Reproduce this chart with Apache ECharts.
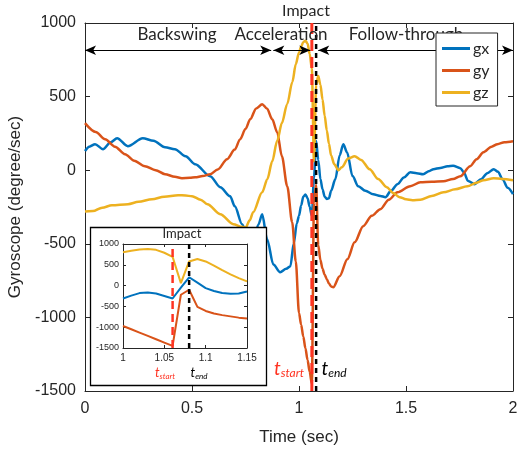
<!DOCTYPE html>
<html><head><meta charset="utf-8">
<script src="https://cdn.jsdelivr.net/npm/echarts@6/dist/echarts.min.js"></script>
<style>html,body{margin:0;padding:0;background:#fff}#c{width:517px;height:450px}</style>
</head><body><div id="c"></div>
<script>
// ---- data ----
const insetT  = [1.00,1.01,1.02,1.03,1.04,1.05,1.06,1.07,1.08,1.09,1.10,1.11,1.12,1.13,1.14,1.15];
const insetGx = [-310,-240,-180,-165,-190,-250,-310,-50,200,70,-60,-130,-180,-195,-190,-140];
const insetGy = [-970,-1050,-1130,-1210,-1290,-1370,-1450,-220,-100,-510,-610,-670,-710,-740,-770,-790];
const insetGz = [800,840,870,880,860,790,690,60,580,640,580,480,370,270,180,100];

const gxEarlyT = [0,0.02,0.047,0.084,0.12,0.15,0.2,0.27,0.32,0.374,0.42,0.47,0.515,0.585,0.632,0.678,0.70,0.734,0.76,0.79,0.81,0.828,0.851,0.88,0.912,0.94,0.96,0.975,0.99];
const gxEarly  = [130,160,177,143,190,217,163,217,200,156,143,95,41,-41,-115,-177,-245,-367,-450,-460,-370,-300,-469,-640,-693,-670,-652,-500,-360];
const gxLateT  = [1.17,1.19,1.207,1.225,1.25,1.277,1.31,1.347,1.38,1.404,1.43,1.46,1.49,1.52,1.55,1.58,1.61,1.628,1.66,1.694,1.72,1.754,1.77,1.79,1.82,1.85,1.88,1.91,1.93,1.951,1.975,2.0];
const gxLate   = [-60,100,177,120,-40,-109,-140,-163,-175,-183,-140,-95,-50,-14,-20,-27,-5,7,15,27,30,14,-14,-73,-95,-61,-20,7,-10,-61,-120,-163];

const gyEarlyT = [0,0.05,0.094,0.14,0.187,0.23,0.28,0.33,0.374,0.42,0.453,0.49,0.515,0.55,0.585,0.62,0.664,0.7,0.725,0.75,0.772,0.8,0.828,0.85,0.875,0.898,0.92,0.945,0.968,0.985];
const gyEarly  = [320,260,211,160,109,65,27,0,-27,-45,-54,-52,-48,-40,-27,5,75,140,211,280,346,420,448,420,346,258,95,-109,-353,-620];
const gyLateT  = [1.16,1.19,1.226,1.26,1.3,1.34,1.38,1.42,1.46,1.52,1.567,1.62,1.675,1.72,1.754,1.8,1.83,1.862,1.9,1.927,1.96,2.0];
const gyLate   = [-795,-720,-605,-490,-380,-310,-265,-200,-150,-109,-82,-78,-75,-60,-41,27,75,122,160,177,190,197];

const gzEarlyT = [0,0.037,0.08,0.126,0.201,0.25,0.313,0.37,0.435,0.47,0.5,0.54,0.572,0.632,0.693,0.734,0.75,0.77,0.786,0.828,0.852,0.875,0.898,0.92,0.945,0.969,0.985];
const gzEarly  = [-280,-278,-255,-238,-231,-215,-197,-180,-170,-172,-177,-200,-231,-299,-367,-385,-390,-340,-285,-150,-61,60,200,320,450,600,720];
const gzLateT  = [1.165,1.184,1.2,1.23,1.26,1.29,1.33,1.37,1.41,1.44,1.47,1.5,1.53,1.567,1.62,1.675,1.73,1.787,1.83,1.862,1.91,1.95,2.0];
const gzLate   = [40,0,20,80,95,70,7,-60,-115,-155,-183,-198,-204,-200,-175,-150,-130,-109,-85,-68,-54,-60,-68];

const impactStart = 1.06, impactEnd = 1.08;
const phaseNames = ['Backswing','Acceleration','Follow-through'];
const phaseArrows = [[0,0.87],[0.88,1.053],[1.09,2]];
const arrowLevel = 815;

// ---- build ----
const pairs = (ts, vs) => ts.map((t,i)=>[t, vs[i]]);
const mainGx = pairs(gxEarlyT.concat(insetT, gxLateT), gxEarly.concat(insetGx, gxLate));
const mainGy = pairs(gyEarlyT.concat(insetT, gyLateT), gyEarly.concat(insetGy, gyLate));
const mainGz = pairs(gzEarlyT.concat(insetT, gzLateT), gzEarly.concat(insetGz, gzLate));

const C = {gx:'#0072BD', gy:'#D95319', gz:'#EDB120', red:'#FF3322', axis:'#262626'};
const TF = 'Liberation Sans';
const AF = 'Lato';
const plain = v => String(Math.round(v*1000)/1000);

const chart = echarts.init(document.getElementById('c'), null, {renderer:'canvas'});

function xAx(grid, min, max, itv, pos, labels, fs, z){
  return {gridIndex:grid, type:'value', min, max, interval:itv, position:pos, z:z||0,
    axisLine:{show:true, onZero:false, lineStyle:{color:C.axis, width:1}},
    axisTick:{show:true, inside:true, length:grid===0?5:3, lineStyle:{color:C.axis}},
    axisLabel:{show:labels, color:C.axis, fontFamily:TF, fontSize:fs, margin:grid===0?10:5, formatter:plain},
    splitLine:{show:false}};
}
function yAx(grid, pos, labels, fs, z){
  return {gridIndex:grid, type:'value', min:-1500, max:1000, interval:500, position:pos, z:z||0,
    axisLine:{show:true, onZero:false, lineStyle:{color:C.axis, width:1}},
    axisTick:{show:true, inside:true, length:grid===0?5:3, lineStyle:{color:C.axis}},
    axisLabel:{show:labels, color:C.axis, fontFamily:TF, fontSize:fs, margin:grid===0?9:4, formatter:plain},
    splitLine:{show:false}};
}

const xAxes = [
  xAx(0,0,2,0.5,'bottom',true,16),
  xAx(0,0,2,0.5,'top',false,16),
  xAx(1,1,1.15,0.05,'bottom',true,10,30),
  xAx(1,1,1.15,0.05,'top',false,10,30)
];
xAxes[0].name = 'Time (sec)'; xAxes[0].nameLocation='middle'; xAxes[0].nameGap=38;
xAxes[0].nameTextStyle = {fontFamily:TF, fontSize:17, color:C.axis};
const yAxes = [
  yAx(0,'left',true,16), yAx(0,'right',false,16),
  yAx(1,'left',true,9,30), yAx(1,'right',false,9,30)
];
yAxes[0].name = 'Gyroscope (degree/sec)'; yAxes[0].nameLocation='middle'; yAxes[0].nameGap=58;
yAxes[0].nameTextStyle = {fontFamily:TF, fontSize:17, color:C.axis};

function mainLine(name, data, color){
  return {name, type:'line', xAxisIndex:0, yAxisIndex:0, data, showSymbol:false, symbol:'none',
    smooth:0.3, smoothMonotone:'x', lineStyle:{color, width:2.5}, itemStyle:{color}, z:2, silent:true};
}
function insetLine(name, data, color){
  return {name:name+'_in', type:'line', xAxisIndex:2, yAxisIndex:2, data, showSymbol:false, symbol:'none',
    smooth:false, lineStyle:{color, width:2}, itemStyle:{color}, z:32, silent:true, clip:true};
}
function vline(x, xi, yi, color, width, dash, z){
  return {type:'line', xAxisIndex:xi, yAxisIndex:yi, data:[[x,-1500],[x,1000]], showSymbol:false, symbol:'none',
    lineStyle:{color, width, type:dash}, z, silent:true};
}

const arrowSeries = vline(impactStart,0,0,C.red,3,[11,6],4);
arrowSeries.markLine = {
  silent:true, symbol:['arrow','arrow'], symbolSize:[7,11],
  lineStyle:{color:'#000', width:1, type:'solid'}, label:{show:false},
  data: phaseArrows.map(a=>[{coord:[a[0],arrowLevel]},{coord:[a[1],arrowLevel]}])
};

const series = [
  mainLine('gx', mainGx, C.gx),
  mainLine('gy', mainGy, C.gy),
  mainLine('gz', mainGz, C.gz),
  arrowSeries,
  vline(impactEnd,0,0,'#000',2.5,[5,4],4),
  insetLine('gx', pairs(insetT, insetGx), C.gx),
  insetLine('gy', pairs(insetT, insetGy), C.gy),
  insetLine('gz', pairs(insetT, insetGz), C.gz),
  vline(impactStart,2,2,C.red,2.5,[8,5],33),
  vline(impactEnd,2,2,'#000',2.5,[5,4],33)
];

const tLabel = (sub, color, fs, x, y, z) => ({
  type:'text', x, y, z,
  style:{text:'{t|t}{s|'+sub+'}', fill:color, align:'center', verticalAlign:'middle',
    rich:{t:{fontFamily:AF, fontStyle:'italic', fontSize:fs, fill:color, verticalAlign:'bottom'},
          s:{fontFamily:AF, fontStyle:'italic', fontSize:Math.round(fs*0.62), fill:color, verticalAlign:'bottom', padding:[0,0,-1,0]}}}
});

const graphic = [
  {type:'text', x:306, y:11, style:{text:'Impact', font:'16px '+AF, fill:C.axis, align:'center', verticalAlign:'middle'}},
  {type:'text', x:177, y:35, z:5, style:{text:phaseNames[0], font:'17px '+AF, fill:C.axis, align:'center', verticalAlign:'middle'}},
  {type:'text', x:281, y:35, z:5, style:{text:phaseNames[1], font:'17px '+AF, fill:C.axis, align:'center', verticalAlign:'middle'}},
  {type:'text', x:406, y:35, z:5, style:{text:phaseNames[2], font:'17px '+AF, fill:C.axis, align:'center', verticalAlign:'middle'}},
  {type:'rect', z:20, shape:{x:90.5, y:227.5, width:176, height:158}, style:{fill:'#fff', stroke:'#000', lineWidth:1.3}},
  {type:'text', x:182, y:234, z:40, style:{text:'Impact', font:'13px '+AF, fill:C.axis, align:'center', verticalAlign:'middle'}},
  tLabel('start', C.red, 19, 289, 369, 40),
  tLabel('end', '#000', 19, 334, 369, 40),
  tLabel('start', C.red, 13, 165, 373, 40),
  tLabel('end', '#000', 13, 199, 373, 40)
];

chart.setOption({
  animation:false,
  backgroundColor:'#fff',
  grid:[{left:85, top:23, width:428, height:368, outerBoundsMode:'none', containLabel:false},
        {left:123, top:244, width:124, height:104, outerBoundsMode:'none', containLabel:false}],
  xAxis:xAxes, yAxis:yAxes,
  legend:{data:['gx','gy','gz'], orient:'vertical', left:436, top:33, itemWidth:28, itemHeight:3, itemGap:3,
    icon:'rect', backgroundColor:'#fff', borderColor:C.axis, borderWidth:1, padding:[6,8,4,6], z:10,
    textStyle:{fontFamily:AF, fontSize:16, color:C.axis, lineHeight:19, padding:[0,0,0,-2]}},
  series, graphic
});
</script></body></html>
